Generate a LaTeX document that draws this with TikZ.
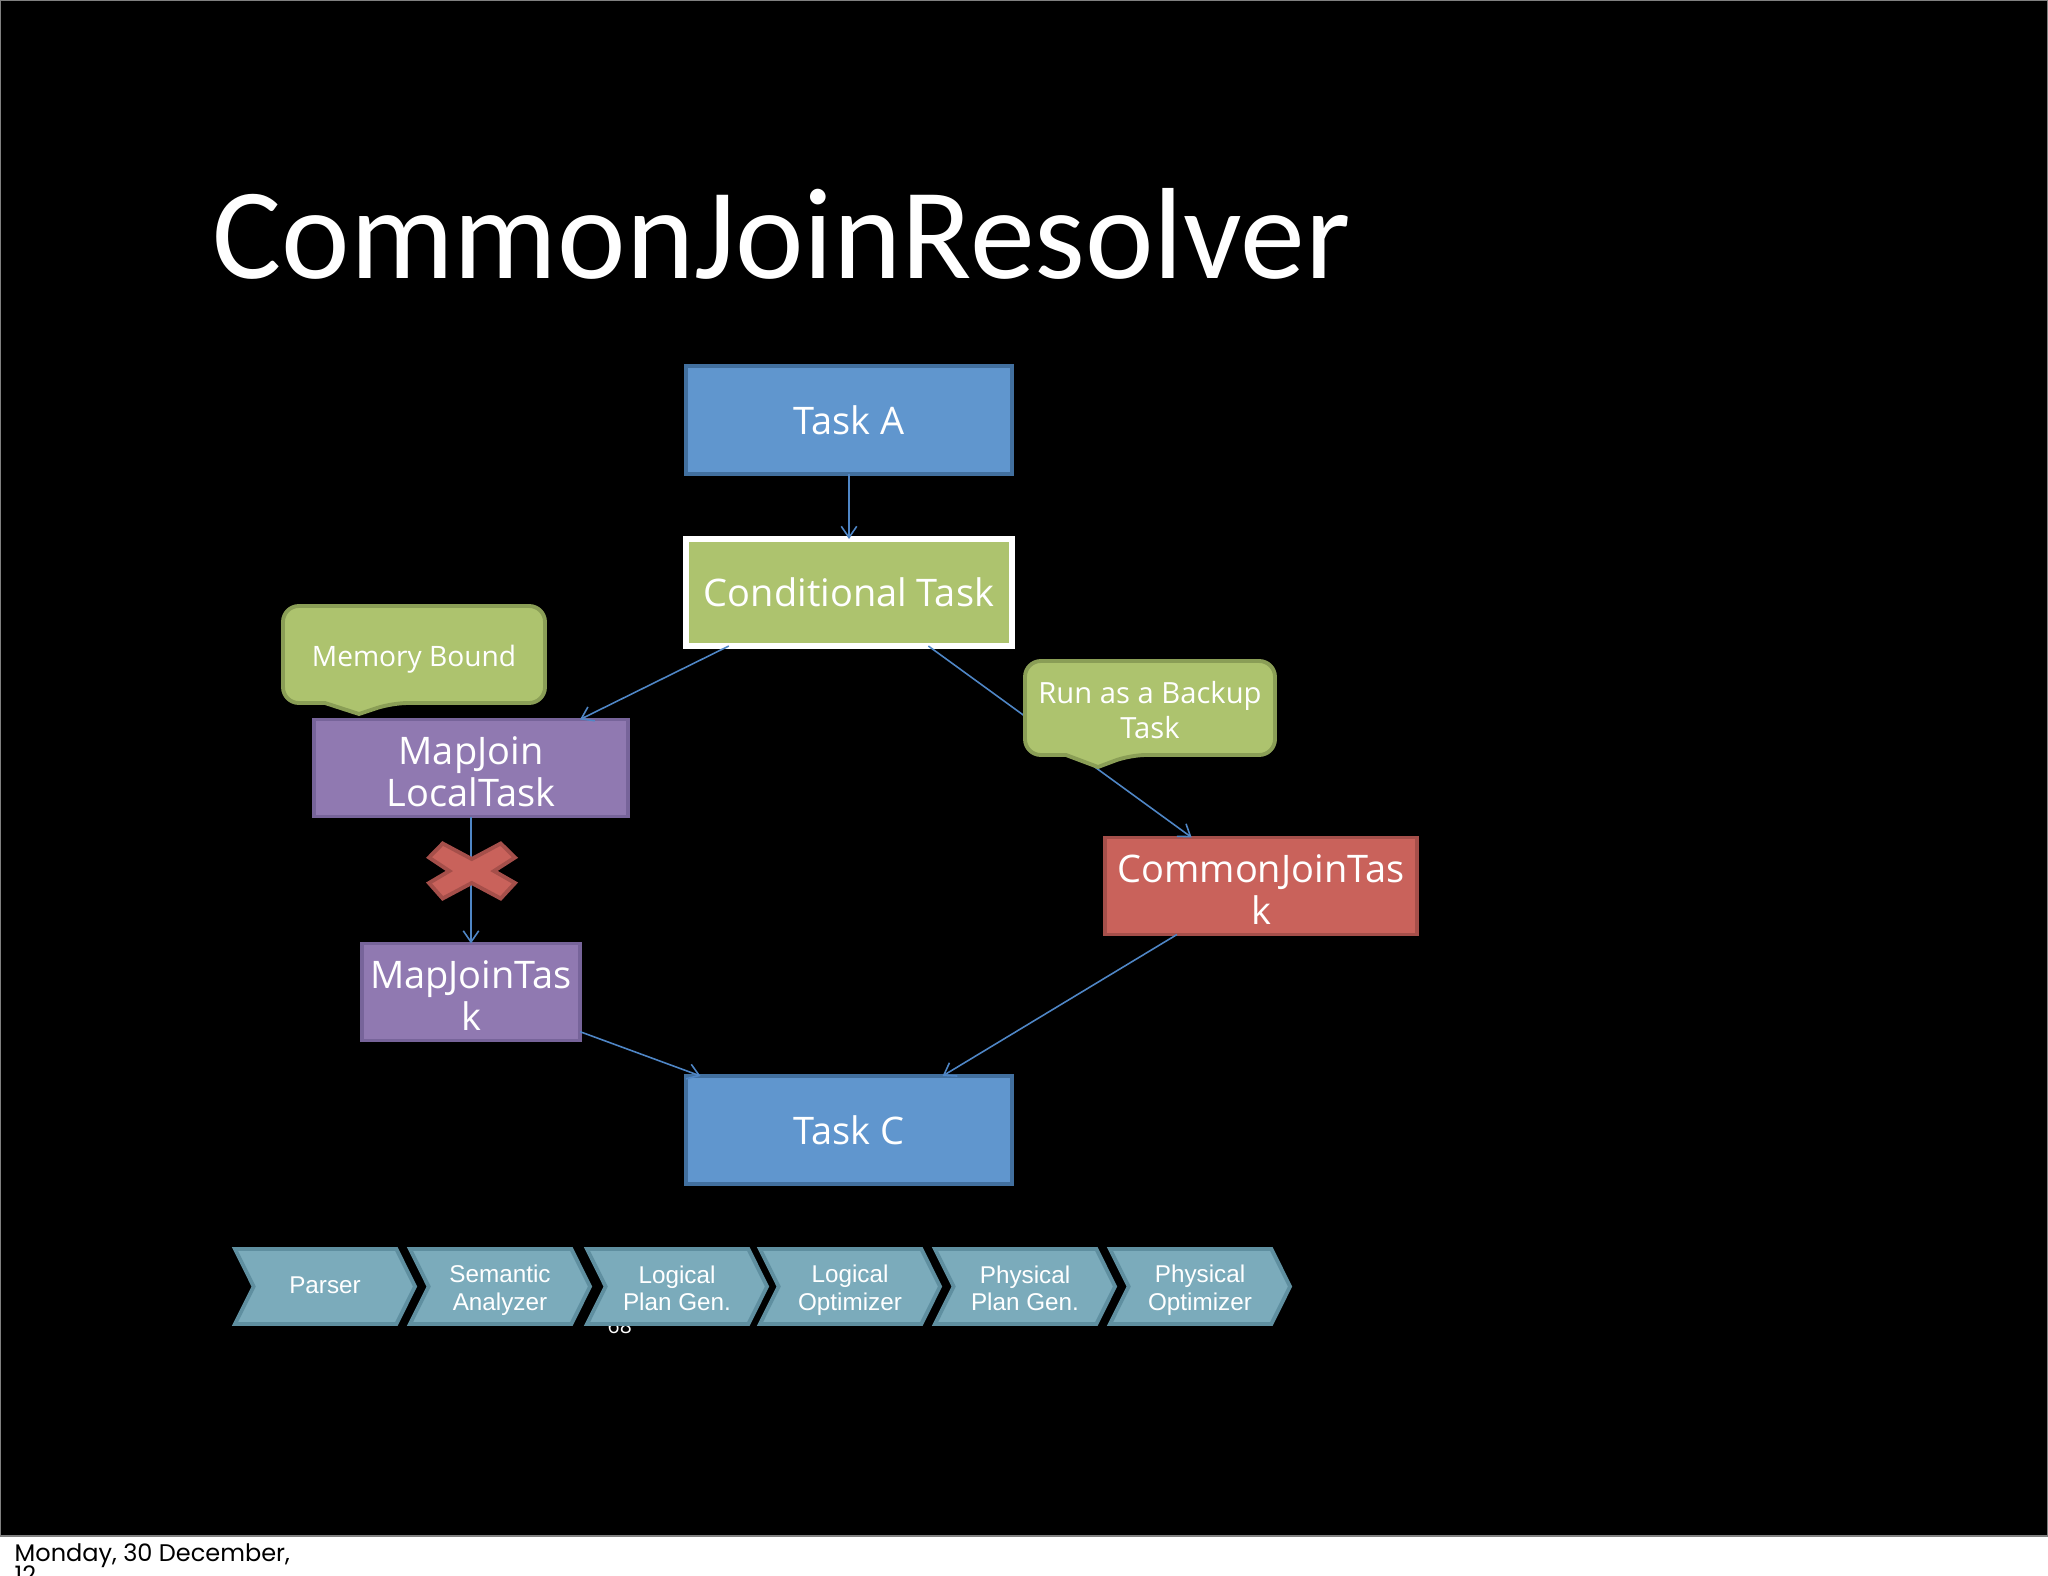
\documentclass[tikz,border=0pt]{standalone}
\usepackage{fontspec}
\setmainfont{Open Sans}
\newfontfamily\titlefont{Carlito}
\newfontfamily\stagefont{Liberation Sans}
\newfontfamily\datefont{Poppins}
\usetikzlibrary{shapes.symbols,arrows.meta}

\definecolor{bluefill}{HTML}{6096CE}
\definecolor{blueline}{HTML}{42709F}
\definecolor{greenfill}{HTML}{ADC36E}
\definecolor{greenline}{HTML}{8A9E56}
\definecolor{purplefill}{HTML}{9079B1}
\definecolor{purpleline}{HTML}{77649A}
\definecolor{redfill}{HTML}{C9625B}
\definecolor{redline}{HTML}{A54F4A}
\definecolor{stagefill}{HTML}{7BABBB}
\definecolor{stageline}{HTML}{5F8FA0}
\definecolor{arrowblue}{HTML}{4F86C6}

% extra room above a first line, so that two lines sit lower in their box
\newcommand{\tasklift}{\rule{0pt}{10pt}}
\newcommand{\stagelift}{\rule{0pt}{7pt}}

\tikzset{
  taskbox/.style={draw,line width=1.1pt,inner sep=0pt,outer sep=0pt,align=center,text=white,
    font=\fontsize{10.8}{12}\selectfont},
  bluebox/.style={taskbox,fill=bluefill,draw=blueline,minimum width=3.26cm,minimum height=1.08cm},
  twoline/.style={taskbox,minimum height=0.97cm},
  purplebox/.style={twoline,fill=purplefill,draw=purpleline},
  flow/.style={-{Straight Barb[length=3.2pt,width=4.4pt]},arrowblue,line width=0.45pt},
  bubble/.style={fill=greenfill,draw=greenline,line width=1.1pt,rounded corners=4.5pt},
  bubbletext/.style={align=center,text=white,inner sep=0pt,font=\fontsize{8}{9.6}\selectfont},
  stagebox/.style={shape=signal,signal from=west,signal to=east,signal pointer angle=127,
    fill=stagefill,draw=stageline,line width=1.1pt,inner sep=0pt,outer sep=0pt,
    minimum width=1.8cm,minimum height=0.75cm,align=center,text=white,
    font=\stagefont\fontsize{6.9}{7.8}\selectfont,
    execute at end node=\rule[-1pt]{0pt}{0pt}}
}

\begin{document}
\begin{tikzpicture}[x=0.01cm,y=-0.01cm]

\clip (0,0) rectangle (2048,1576);
\fill [white] (0,0) rectangle (2048,1576);
\draw [fill=black,draw=gray,line width=0.5pt] (0,0) rectangle (2048,1536);

\node [anchor=base west,text=white,inner sep=0pt,font=\titlefont\fontsize{36.9}{40}\selectfont] (title) at (212,278) {CommonJoinResolver};

\node [anchor=base west,text=white,inner sep=0pt,font=\fontsize{6}{7}\selectfont] (pagenum) at (607,1333) {68};

\node [anchor=base west,inner sep=0pt,font=\datefont\fontsize{6.83}{8}\selectfont] (date) at (14,1561) {Monday, 30 December,};
\node [anchor=base west,inner sep=0pt,font=\datefont\fontsize{6.83}{8}\selectfont] (year) at (14,1583) {12};

% tasks
\node [bluebox] (taska) at (849,420) {Task A};
\node [taskbox,fill=greenfill,draw=white,line width=1.7pt,minimum width=3.26cm,minimum height=1.07cm] (cond) at (849,592.5) {Conditional Task};
\node [purplebox,minimum width=3.14cm] (localtask) at (471,768) {\tasklift MapJoin\\LocalTask};
\node [purplebox,minimum width=2.18cm] (mapjoin) at (471,992) {\tasklift MapJoinTas\\k};
\node [twoline,fill=redfill,draw=redline,minimum width=3.12cm] (common) at (1261,886) {\tasklift CommonJoinTas\\k};
\node [bluebox] (taskc) at (849,1130) {Task C};

\draw [flow] (taska) to (cond);
\draw [flow] (cond.204) to (localtask.24.2);
\draw [flow] (cond.-34.4) to (common.145.6);
\draw [flow] (localtask) to (mapjoin);
\draw [flow] (mapjoin.-20.3) to (taskc.160.6);
\draw [flow] (common.210.3) to (taskc.30);

% the cross
\draw [fill=redfill,draw=redline,line width=1.1pt] (471.7,859) -- (500.7,843.5) -- (515,857.5) -- (494,871) -- (515,883) -- (500.7,898.5) -- (471.7,883) -- (442.7,898.5) -- (429,883) -- (449.3,871) -- (429,857.5) -- (442.7,843.5) -- cycle;

% bubbles
\draw [bubble] (325,703) -- (283,703) -- (283,606) -- (545,606) -- (545,703) -- (392,703) [sharp corners] -- (359,714) -- cycle;
\node [bubbletext] (memory) at (414,659) {Memory Bound};

\draw [bubble] (1066,755) -- (1025,755) -- (1025,661) -- (1275,661) -- (1275,755) -- (1130,755) [sharp corners] -- (1098,767) -- cycle;
\node [bubbletext,font=\fontsize{8.3}{9.7}\selectfont] (backup) at (1150,710) {Run as a Backup\\Task};

% stages
\foreach \x/\n/\t in {325/parser/Parser,
                      500/semantic/{\stagelift Semantic\\Analyzer},
                      677/logical/{\stagelift Logical\\Plan Gen.},
                      850/optimizer/{\stagelift Logical\\Optimizer},
                      1025/physical/{\stagelift Physical\\Plan Gen.},
                      1200/physopt/{\stagelift Physical\\Optimizer}} {
\node [stagebox] (\n) at (\x,1286.5) {\t};
}

\end{tikzpicture}
\end{document}
